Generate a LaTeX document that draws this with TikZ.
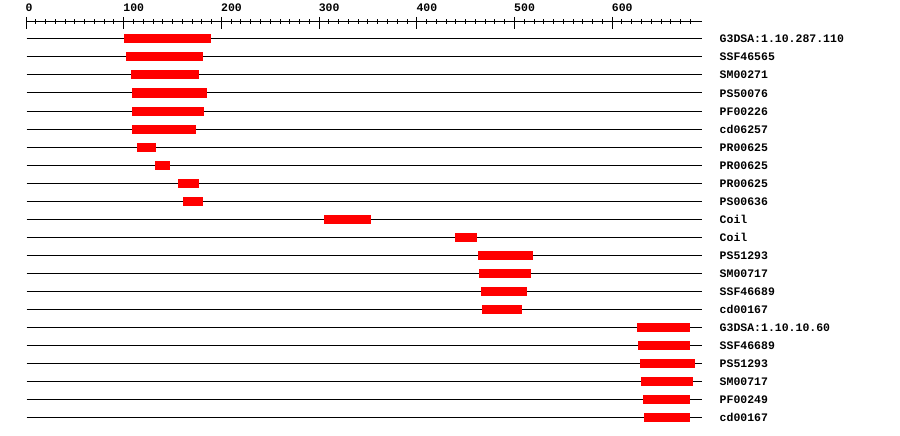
\documentclass[tikz,border=0pt]{standalone}
\usepackage{fontspec}
\setmainfont{Liberation Mono}
\begin{document}
\begin{tikzpicture}[x=1pt,y=-1pt,
  lbl/.style={font=\fontsize{11.5}{12}\selectfont\bfseries, inner sep=0pt, anchor=base west},
  track/.style={black, line width=1pt},
  bar/.style={fill=red},
  tk/.style={black, line width=1pt}]
\useasboundingbox (0,0) rectangle (900,436);
% axis
\draw[tk] (26.5,22) -- (701.5,22);
\foreach \u in {0,10,...,680} {
  \draw[tk] ({26+0.977*\u},19.5) -- ({26+0.977*\u},24.5);
}
\foreach \u in {0,100,...,600} {
  \draw[tk] ({26+0.977*\u},17) -- ({26+0.977*\u},29);
  \node[lbl] (ax\u) at ({25.5+0.977*\u},12) {\u};
}
% rows
\foreach \s/\e/\t [count=\i] in {
  124/211/G3DSA:1.10.287.110,
  126/203/SSF46565,
  131/199/SM00271,
  132/207/PS50076,
  132/204/PF00226,
  132/196/cd06257,
  137/156/PR00625,
  155/170/PR00625,
  178/199/PR00625,
  183/203/PS00636,
  324/371/Coil,
  455/477/Coil,
  478/533/PS51293,
  479/531/SM00717,
  481/527/SSF46689,
  482/522/cd00167,
  637/690/G3DSA:1.10.10.60,
  638/690/SSF46689,
  640/695/PS51293,
  641/693/SM00717,
  643/690/PF00249,
  644/690/cd00167} {
  \pgfmathsetmacro{\yy}{39+18*(\i-1)}
  \draw[track] (26.5,\yy) -- (701.5,\yy);
  \fill[bar] (\s,\yy-4.5) rectangle (\e,\yy+4.5);
  \node[lbl] (lab\i) at (719.5,\yy+4) {\t};
}
\end{tikzpicture}
\end{document}
